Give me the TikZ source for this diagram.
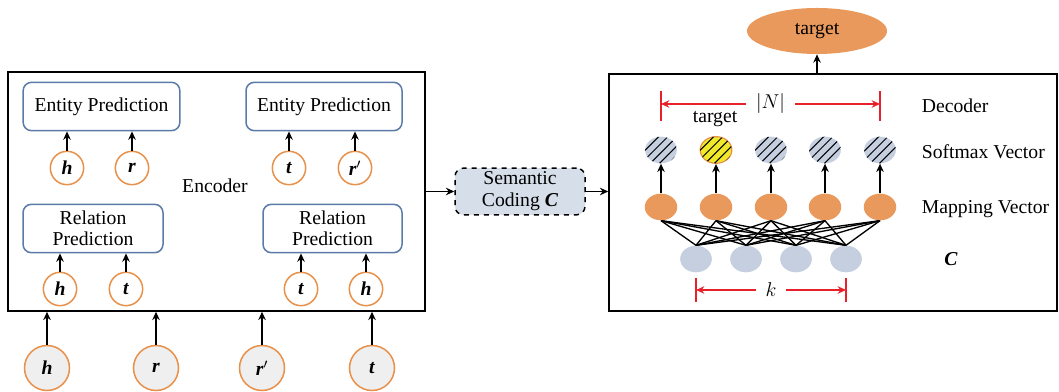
\documentclass[tikz,border=0pt]{standalone}
\usepackage{fontspec}
\setmainfont{Liberation Serif}
\usepackage{xcolor}
\usepackage{tikz}
\usetikzlibrary{arrows.meta,shapes.geometric,patterns}

\definecolor{varorange}{HTML}{E8914A}
\definecolor{fillorange}{HTML}{E9995B}
\definecolor{boxblue}{HTML}{5A7BA8}
\definecolor{nodegray}{HTML}{C5CFE0}
\definecolor{codinggray}{HTML}{D6DFE9}
\definecolor{inputgray}{HTML}{EFEFEF}
\definecolor{targetyellow}{HTML}{F0E92A}
\definecolor{dimred}{HTML}{E8202A}

\pgfdeclarepatternformonly{sparse hatch}{\pgfqpoint{-1pt}{-1pt}}{\pgfqpoint{6.5pt}{6.5pt}}{\pgfqpoint{5.5pt}{5.5pt}}{%
  \pgfsetlinewidth{0.6pt}%
  \pgfpathmoveto{\pgfqpoint{0pt}{0pt}}%
  \pgfpathlineto{\pgfqpoint{5.6pt}{5.6pt}}%
  \pgfusepath{stroke}}

\tikzset{
  predbox/.style={draw=boxblue, line width=0.9pt, rounded corners=5pt, align=center, minimum height=29pt, inner sep=1pt},
  smallvar/.style={circle, draw=varorange, line width=0.9pt, fill=white, minimum size=20pt, inner sep=0pt},
  inputvar/.style={circle, draw=varorange, line width=0.9pt, fill=inputgray, minimum size=27pt, inner sep=0pt},
  softnode/.style={ellipse, fill=nodegray, minimum width=19pt, minimum height=16pt, inner sep=0pt, postaction={pattern=sparse hatch}},
  mapnode/.style={ellipse, fill=fillorange, minimum width=19.5pt, minimum height=16pt, inner sep=0pt},
  codenode/.style={ellipse, fill=nodegray, minimum width=19pt, minimum height=16pt, inner sep=0pt},
  arr/.style={-{Stealth[length=5pt,width=4.5pt]}, line width=0.9pt},
  dimarr/.style={{Stealth[length=5pt,width=4.5pt]}-{Stealth[length=5pt,width=4.5pt]}, draw=dimred, line width=0.8pt},
  dimtick/.style={draw=dimred, line width=0.8pt}
}

\begin{document}
\begin{tikzpicture}[x=0.6pt, y=-0.6pt, font=\fontsize{11.8}{12.6}\selectfont]
\useasboundingbox (0,0) rectangle (1059,392);

\node (enc) at (216.5,191.5) [draw, line width=0.9pt, minimum width=250.2pt, minimum height=143.4pt] {};
\node (enclab) at (215,186) {Encoder};

\node (entL) at (101.5,106.5) [predbox, minimum width=94pt] {Entity Prediction};
\node (entR) at (324,106.5) [predbox, minimum width=93.6pt] {Entity Prediction};
\node (relL) at (93,228.5) [predbox, minimum width=84pt] {Relation\\Prediction};
\node (relR) at (332.5,228.5) [predbox, minimum width=83.4pt] {Relation\\Prediction};

\node (eh) at (67,168) [smallvar] {\textbf{\textit{h}}};
\node (er) at (132,168) [smallvar] {\textbf{\textit{r}}};
\node (et) at (289,168) [smallvar] {\textbf{\textit{t}}};
\node (erp) at (355,168) [smallvar] {\textbf{\textit{r}}$'$};
\node (rh) at (60,289) [smallvar] {\textbf{\textit{h}}};
\node (rt) at (126,289) [smallvar] {\textbf{\textit{t}}};
\node (rt2) at (301,289) [smallvar] {\textbf{\textit{t}}};
\node (rh2) at (366,289) [smallvar] {\textbf{\textit{h}}};

\draw [arr] (eh) -- (eh |- entL.south);
\draw [arr] (er) -- (er |- entL.south);
\draw [arr] (et) -- (et |- entR.south);
\draw [arr] (erp) -- (erp |- entR.south);
\draw [arr] (rh) -- (rh |- relL.south);
\draw [arr] (rt) -- (rt |- relL.south);
\draw [arr] (rt2) -- (rt2 |- relR.south);
\draw [arr] (rh2) -- (rh2 |- relR.south);

\node (inh) at (47,368) [inputvar] {\textbf{\textit{h}}};
\node (inr) at (156,368) [inputvar] {\textbf{\textit{r}}};
\node (inrp) at (262,368) [inputvar] {\textbf{\textit{r}}$'$};
\node (int) at (372,368) [inputvar] {\textbf{\textit{t}}};

\draw [arr] (inh) -- (inh |- enc.south);
\draw [arr] (inr) -- (inr |- enc.south);
\draw [arr] (inrp) -- (inrp |- enc.south);
\draw [arr] (int) -- (int |- enc.south);

\node (sem) at (520,191.5) [draw, dashed, line width=0.9pt, rounded corners=5pt, fill=codinggray, align=center, minimum width=78pt, minimum height=28pt, inner sep=1pt, font=\fontsize{11.8}{13.2}\selectfont] {Semantic\\Coding \textbf{\textit{C}}};

\node (dec) at (833,192.5) [draw, line width=0.9pt, minimum width=268.8pt, minimum height=142.2pt] {};

\draw [arr] (enc.east) -- (sem.west);
\draw [arr] (sem.east) -- (sem.east -| dec.west);

\node (tgt) at (817,31) [ellipse, fill=fillorange, minimum width=84pt, minimum height=27.6pt, inner sep=0pt] {target};
\draw [arr] (tgt |- dec.north) -- (tgt.south);

\node (s1) at (661,150) [softnode] {};
\node (s2) at (716,150) [softnode, fill=targetyellow, draw=varorange, line width=0.7pt] {};
\node (s3) at (771,150) [softnode] {};
\node (s4) at (825,150) [softnode] {};
\node (s5) at (880,150) [softnode] {};
\node (tlab) at (715,119) {target};

\node (m1) at (661,207) [mapnode] {};
\node (m2) at (716,207) [mapnode] {};
\node (m3) at (771,207) [mapnode] {};
\node (m4) at (825,207) [mapnode] {};
\node (m5) at (880,207) [mapnode] {};

\node (c1) at (696,259) [codenode] {};
\node (c2) at (746,259) [codenode] {};
\node (c3) at (796,259) [codenode] {};
\node (c4) at (846,259) [codenode] {};

\foreach \i in {1,...,5}
  \draw [arr] (m\i) -- (s\i);

\foreach \i in {1,...,5}
  \foreach \j in {1,...,4}
    \draw [line width=0.8pt] (m\i.south) -- (c\j.north);

\coordinate (nL) at (s1 |- 0,104);
\coordinate (nR) at (s5 |- 0,104);
\draw [dimtick] ([yshift=7.8pt]nL) -- ([yshift=-10.2pt]nL);
\draw [dimtick] ([yshift=7.8pt]nR) -- ([yshift=-10.2pt]nR);
\draw [dimarr] (nL) -- node (nlab) [fill=white, inner xsep=6pt] {$|N|$} (nR);

\coordinate (kL) at (c1 |- 0,290);
\coordinate (kR) at (c4 |- 0,290);
\draw [dimtick] ([yshift=7.2pt]kL) -- ([yshift=-7.2pt]kL);
\draw [dimtick] ([yshift=7.2pt]kR) -- ([yshift=-7.2pt]kR);
\draw [dimarr] (kL) -- node (klab) [fill=white, inner xsep=6pt] {$k$} (kR);

\node (declab) at (916,106) [anchor=west] {Decoder};
\node (softlab) at (916,152) [anchor=west] {Softmax Vector};
\node (maplab) at (916,209) [anchor=west] {Mapping Vector};
\node (clab) at (951,259) {\textbf{\textit{C}}};
\end{tikzpicture}
\end{document}
